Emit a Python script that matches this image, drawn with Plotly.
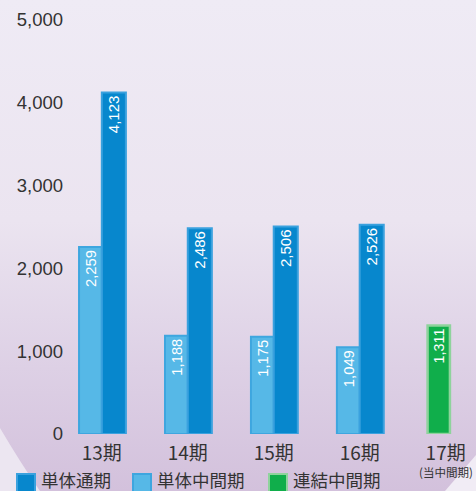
import base64
import plotly.graph_objects as go

# ---- data ----
categories = ["13期", "14期", "15期", "16期", "17期"]
tick_labels = ["13期", "14期", "15期", "16期", "17期"]
sub_label = "(当中間期)"
full_year = [4123, 2486, 2506, 2526, None]          # 単体通期
interim = [2259, 1188, 1175, 1049, None]            # 単体中間期
consolidated_interim = [None, None, None, None, 1311]  # 連結中間期
y_ticks = [0, 1000, 2000, 3000, 4000, 5000]
y_tick_text = ["0", "1,000", "2,000", "3,000", "4,000", "5,000"]
legend_names = ["単体通期", "単体中間期", "連結中間期"]

W, H = 476, 491
L, R, T, B = 64, 2, 20, 57
x_range = [-0.44, 4.33]

DARK = "#0787cd"
DARK_LINE = "#3aa1de"
LIGHT = "#56b8e7"
LIGHT_LINE = "#3ea6df"
GREEN = "#10ae4b"
GREEN_LINE = "#8ed39c"

JP = "Noto Sans CJK JP"
LAT = "Liberation Sans, Arial, sans-serif"

fig = go.Figure()
xs = list(range(len(categories)))

fig.add_trace(go.Bar(
    x=xs, y=interim, name=legend_names[1], width=0.265, offset=-0.265,
    marker=dict(color=LIGHT, line=dict(color=LIGHT_LINE, width=2)),
    texttemplate="%{y:,}", textposition="inside", insidetextanchor="end",
    textangle=-90, textfont=dict(color="white", size=15, family=LAT),
    showlegend=False, cliponaxis=False,
))
fig.add_trace(go.Bar(
    x=xs, y=full_year, name=legend_names[0], width=0.28, offset=0.0,
    marker=dict(color=DARK, line=dict(color=DARK_LINE, width=2)),
    texttemplate="%{y:,}", textposition="inside", insidetextanchor="end",
    textangle=-90, textfont=dict(color="white", size=15, family=LAT),
    showlegend=False, cliponaxis=False,
))
fig.add_trace(go.Bar(
    x=xs, y=consolidated_interim, name=legend_names[2], width=0.26, offset=-0.21,
    marker=dict(color=GREEN, line=dict(color=GREEN_LINE, width=2.5)),
    texttemplate="%{y:,}", textposition="inside", insidetextanchor="end",
    textangle=-90, textfont=dict(color="white", size=15, family=LAT),
    showlegend=False, cliponaxis=False,
))

# ---- background (gradient) as an inline SVG image ----
svg = f'''<svg xmlns="http://www.w3.org/2000/svg" width="{W}" height="{H}" viewBox="0 0 {W} {H}">
<defs><linearGradient id="g" x1="0" y1="0" x2="0" y2="1">
<stop offset="0" stop-color="#efebf5"/>
<stop offset="0.45" stop-color="#ebe4f0"/>
<stop offset="0.75" stop-color="#ddd0e5"/>
<stop offset="1" stop-color="#d3c1dc"/>
</linearGradient></defs>
<rect x="0" y="0" width="{W}" height="{H}" fill="url(#g)"/>
<path d="M0,428 Q20,462 40,491 L0,491 Z" fill="#ece6f1"/>
<path d="M476,455 L476,491 L445,491 Z" fill="#f1ecf5"/>
</svg>'''
uri = "data:image/svg+xml;base64," + base64.b64encode(svg.encode()).decode()
pw, ph = W - L - R, H - T - B
fig.add_layout_image(dict(
    source=uri, xref="paper", yref="paper",
    x=-L / pw, y=1 + T / ph, sizex=W / pw, sizey=H / ph,
    xanchor="left", yanchor="top", sizing="stretch", layer="below",
))

# sub label under the 17期 tick
fig.add_annotation(xref="x", yref="paper", x=xs[-1], y=1 - (472 - T) / ph,
                   xanchor="center", yanchor="middle", showarrow=False,
                   text=sub_label, font=dict(family=JP, size=11.5, color="#333333"))

# ---- manual legend ----
legend_items = [
    (17, legend_names[0], DARK, DARK_LINE),
    (133, legend_names[1], LIGHT, LIGHT_LINE),
    (269, legend_names[2], GREEN, GREEN_LINE),
]
for px, name, fill, line in legend_items:
    fig.add_shape(type="rect", xref="paper", yref="paper",
                  x0=(px - L) / pw, x1=(px + 18 - L) / pw,
                  y0=1 - (474 - T) / ph, y1=1 - (493 - T) / ph,
                  fillcolor=fill, line=dict(color=line, width=2))
    fig.add_annotation(xref="paper", yref="paper",
                       x=(px + 22 - L) / pw, y=1 - (479.5 - T) / ph,
                       xanchor="left", yanchor="middle", showarrow=False,
                       text=name, font=dict(family=JP, size=17.5, color="#333333"))

fig.update_layout(
    width=W, height=H,
    margin=dict(l=L, r=R, t=T, b=B, autoexpand=False),
    paper_bgcolor="#efebf5", plot_bgcolor="rgba(0,0,0,0)",
    barmode="overlay", showlegend=False,
    xaxis=dict(range=x_range, tickvals=xs, ticktext=tick_labels,
               showgrid=False, zeroline=False, showline=False, ticks="",
               ticklabelstandoff=6,
               tickfont=dict(family=JP, size=19, color="#333333")),
    yaxis=dict(range=[0, 5000], tickvals=y_ticks, ticktext=y_tick_text,
               showgrid=False, zeroline=False, showline=False, ticks="",
               tickfont=dict(family=LAT, size=18.5, color="#333333")),
)

fig.write_html("out.html", config={"displayModeBar": False},
               post_script="document.body.style.margin='0';"
                           "document.body.style.overflow='hidden';")
